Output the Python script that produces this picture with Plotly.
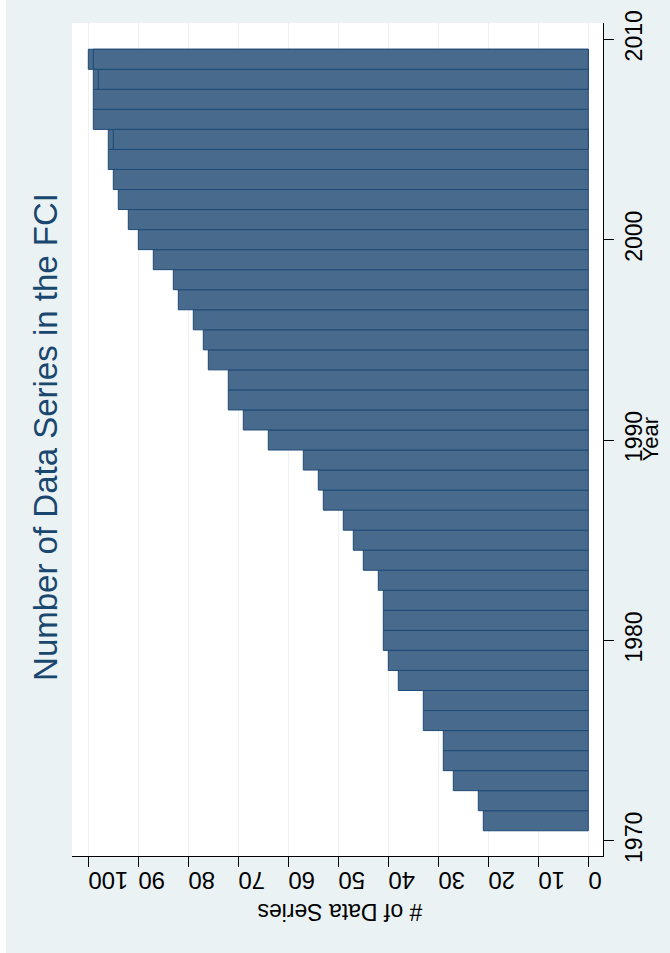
import plotly.graph_objects as go

# Datos (años 1971-2009)
years = [1971, 1972, 1973, 1974, 1975, 1976, 1977, 1978, 1979, 1980,
         1981, 1982, 1983, 1984, 1985, 1986, 1987, 1988, 1989, 1990,
         1991, 1992, 1993, 1994, 1995, 1996, 1997, 1998, 1999, 2000,
         2001, 2002, 2003, 2004, 2005, 2006, 2007, 2008, 2009]
n_series = [21, 22, 27, 29, 29, 33, 33, 38, 40, 41,
            41, 41, 42, 45, 47, 49, 53, 54, 57, 64,
            69, 72, 72, 76, 77, 79, 82, 83, 87, 90,
            92, 94, 95, 96, 96, 99, 99, 99, 100]

# Barras superpuestas (se ve una línea interior en algunos años)
overlap_years = [2005, 2008, 2009]
overlap_series = [95, 98, 99]

x_ticks = [0, 10, 20, 30, 40, 50, 60, 70, 80, 90, 100]
y_ticks = [1970, 1980, 1990, 2000, 2010]

BG = "#EAF2F3"
BAR_FILL = "#476A8D"
BAR_LINE = "#1F4A75"
NAVY = "#1A476F"
FONT = "Liberation Sans, Arial, sans-serif"

fig = go.Figure()

fig.add_trace(go.Bar(
    x=n_series, y=years, orientation="h", width=1,
    marker=dict(color=BAR_FILL, line=dict(color=BAR_LINE, width=1)),
    showlegend=False, hoverinfo="x+y"
))
fig.add_trace(go.Bar(
    x=overlap_series, y=overlap_years, orientation="h", width=1,
    marker=dict(color=BAR_FILL, line=dict(color=BAR_LINE, width=1)),
    showlegend=False, hoverinfo="x+y"
))

fig.update_layout(
    width=670, height=953,
    barmode="overlay",
    paper_bgcolor=BG,
    plot_bgcolor="white",
    margin=dict(l=72, r=67, t=23, b=97, autoexpand=False),
    font=dict(family=FONT, color="black"),
    showlegend=False,
)

# Eje de valores (abajo, invertido)
fig.update_xaxes(
    range=[103.26, -2.94],
    tickvals=x_ticks,
    tickangle=180,
    tickfont=dict(size=24),
    ticks="outside", ticklen=10, tickcolor="black",
    showline=True, linecolor="black", linewidth=1,
    showgrid=True, gridcolor=BG, gridwidth=1,
    zeroline=False, automargin=False,
)

# Eje de años (derecha)
fig.update_yaxes(
    side="right",
    range=[1969.24, 2010.81],
    tickvals=y_ticks,
    tickangle=-90,
    tickfont=dict(size=23),
    ticks="outside", ticklen=10, tickcolor="black",
    showline=True, linecolor="black", linewidth=1,
    showgrid=False, zeroline=False, automargin=False,
)

# Franja blanca del borde izquierdo
fig.add_shape(type="rect", xref="paper", yref="paper",
              x0=-0.1356, x1=-0.1243, y0=-0.13, y1=1.04,
              fillcolor="white", line=dict(width=0), layer="below")

# Título y rótulos rotados
fig.add_annotation(
    text="Number of Data Series in the FCI",
    xref="paper", yref="paper", x=-0.051, y=0.503,
    xanchor="center", yanchor="middle",
    textangle=-90, showarrow=False,
    font=dict(size=33, color=NAVY, family=FONT),
)
fig.add_annotation(
    text="# of Data Series",
    xref="paper", yref="paper", x=0.505, y=-0.067,
    xanchor="center", yanchor="middle",
    textangle=180, showarrow=False,
    font=dict(size=23, color="black", family=FONT),
)
fig.add_annotation(
    text="Year",
    xref="paper", yref="paper", x=1.09, y=0.5,
    xanchor="center", yanchor="middle",
    textangle=-90, showarrow=False,
    font=dict(size=22, color="black", family=FONT),
)

fig.write_html("out.html", config={"displayModeBar": False},
               post_script="document.body.style.margin='0';")
